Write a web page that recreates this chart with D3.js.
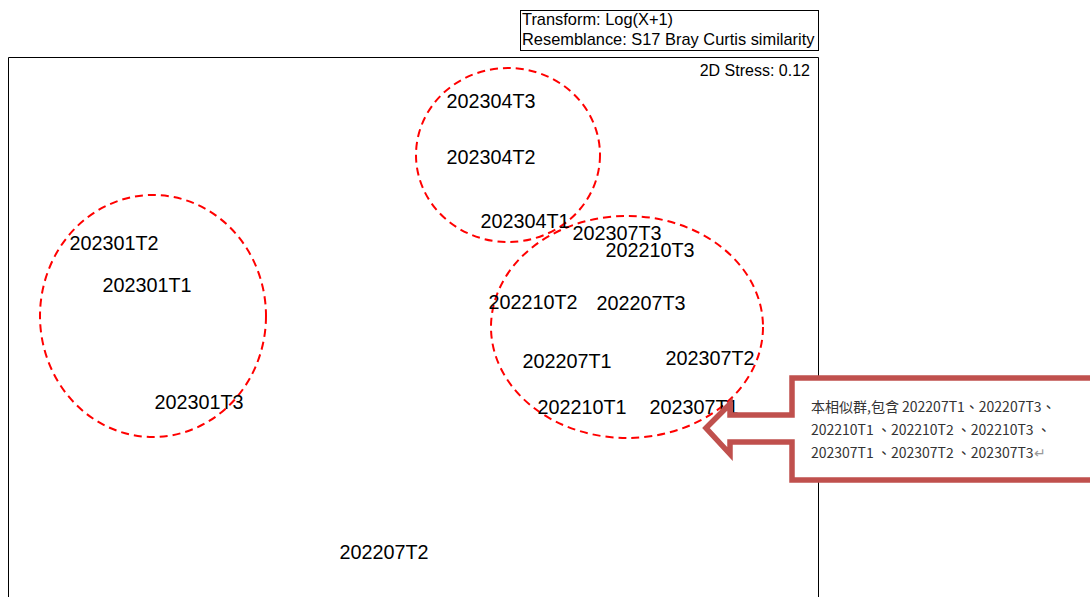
<!DOCTYPE html>
<html>
<head>
<meta charset="utf-8">
<script src="https://cdn.jsdelivr.net/npm/d3@7"></script>
<style>
  body { margin: 0; background: #fff; }
  svg { display: block; font-family: "Liberation Sans", Arial, sans-serif; }
</style>
</head>
<body>
<div id="chart"></div>
<script>
// MDS ordination scores
const samples = ["202304T3", "202304T2", "202304T1", "202307T3", "202210T3", "202210T2", "202207T3",
  "202207T1", "202307T2", "202210T1", "202307T1", "202301T2", "202301T1", "202301T3", "202207T2"];
const mds1 = [0.39, 0.39, 0.56, 1.02, 1.185, 0.60, 1.14, 0.77, 1.485, 0.845, 1.405, -1.495, -1.33, -1.07, -0.145];
const mds2 = [1.095, 0.815, 0.495, 0.435, 0.35, 0.09, 0.085, -0.205, -0.19, -0.435, -0.435, 0.385, 0.175, -0.41, -1.16];

// similarity group outlines: centre and radii in MDS units
const groupCx = [0.475, -1.30, 1.07];
const groupCy = [0.825, 0.02, -0.035];
const groupRx = [0.46, 0.565, 0.68];
const groupRy = [0.435, 0.605, 0.555];

const infoLines = ["Transform: Log(X+1)", "Resemblance: S17 Bray Curtis similarity"];
const stressText = "2D Stress: 0.12";
const noteLines = ["本相似群,包含 202207T1、202207T3、", "202210T1 、202210T2 、202210T3 、", "202307T1 、202307T2 、202307T3"];

const width = 1090, height = 597;
const svg = d3.select("#chart").append("svg").attr("width", width).attr("height", height);

const x = d3.scaleLinear().domain([-2.025, 2.025]).range([8, 818]);
const y = d3.scaleLinear().domain([1.315, -1.385]).range([57, 597]);

// plot frame (bottom runs off the page)
svg.append("path")
    .attr("d", `M${x.range()[0] + 0.5},${height + 5}V${y.range()[0] + 0.5}H${x.range()[1] + 0.5}V${height + 5}`)
    .attr("fill", "none").attr("stroke", "#000").attr("stroke-width", 1);

// info box
const info = svg.append("g").attr("class", "info");
info.append("rect").attr("x", 520.5).attr("y", 10.5).attr("width", 298).attr("height", 40)
    .attr("fill", "#fff").attr("stroke", "#000");
info.selectAll("text").data(infoLines).enter().append("text")
    .attr("x", 522).attr("y", (d, i) => 25 + i * 20)
    .attr("font-size", 16.4).attr("fill", "#000")
    .text(d => d);

svg.append("text").attr("x", 810).attr("y", 76).attr("text-anchor", "end")
    .attr("font-size", 16).text(stressText);

// group ellipses
svg.append("g").selectAll("ellipse").data(groupCx).enter().append("ellipse")
    .attr("cx", d => x(d))
    .attr("cy", (d, i) => y(groupCy[i]))
    .attr("rx", (d, i) => x(groupRx[i]) - x(0))
    .attr("ry", (d, i) => y(0) - y(groupRy[i]))
    .attr("fill", "none").attr("stroke", "#ff0000").attr("stroke-width", 2)
    .attr("stroke-dasharray", "8,5");

// sample labels
svg.append("g").selectAll("text").data(samples).enter().append("text")
    .attr("x", (d, i) => x(mds1[i]))
    .attr("y", (d, i) => y(mds2[i]))
    .attr("dy", "0.35em")
    .attr("text-anchor", "middle")
    .attr("font-size", 19.8)
    .attr("fill", "#000")
    .text(d => d);

// callout arrow pointing at the right group
const callout = svg.append("g").attr("class", "callout");
callout.append("path")
    .attr("d", "M706,428 L730,404 L730,415 L792,415 L792,378 L1100,378 L1100,480 L792,480 L792,442 L730,442 L730,454 Z")
    .attr("fill", "#fff").attr("stroke", "#c0504d").attr("stroke-width", 5.5)
    .attr("stroke-linejoin", "miter");
const note = callout.append("text").attr("font-family", "'Noto Sans CJK TC', sans-serif")
    .attr("font-size", 14).attr("fill", "#333");
note.selectAll("tspan").data(noteLines).enter().append("tspan")
    .attr("x", 811).attr("y", (d, i) => 412 + i * 23)
    .text(d => d);
note.select("tspan:last-child").append("tspan").attr("fill", "#999").text("↵");
</script>
</body>
</html>
